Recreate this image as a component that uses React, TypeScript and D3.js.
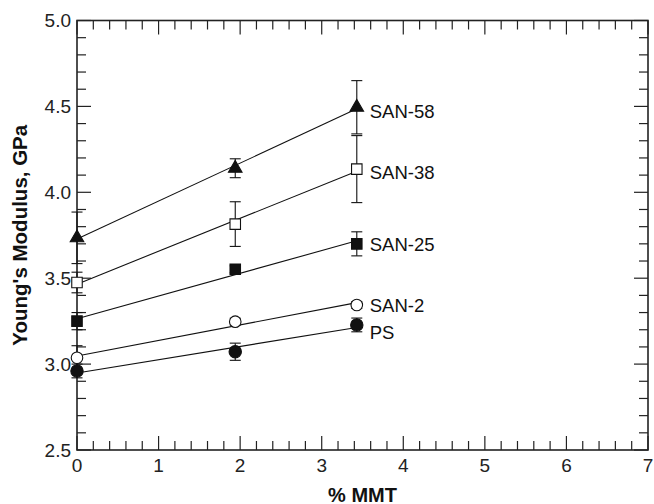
import * as d3 from 'd3'
import React, { useEffect, useRef } from 'react'

// % MMT loadings
const mmt = [0, 1.94, 3.43]

const names = ['SAN-58', 'SAN-38', 'SAN-25', 'SAN-2', 'PS']
const san58 = [3.735, 4.14, 4.495]
const san38 = [3.475, 3.815, 4.135]
const san25 = [3.25, 3.552, 3.7]
const san2 = [3.037, 3.247, 3.344]
const ps = [2.96, 3.072, 3.228]

const san58Err = [0.15, 0.055, 0.155]
const san38Err = [0.06, 0.13, 0.195]
const san25Err = [0.05, 0.02, 0.07]
const san2Err = [0.07, 0.02, 0.02]
const psErr = [0.04, 0.05, 0.04]

const xTicks = [0, 1, 2, 3, 4, 5, 6, 7]
const yTicks = [2.5, 3.0, 3.5, 4.0, 4.5, 5.0]

const W = 654
const H = 504
const margin = { top: 20.5, right: 6, bottom: 54, left: 77 }

export default function App() {
  const ref = useRef<SVGSVGElement>(null)

  useEffect(() => {
    const svg = d3.select(ref.current)
    svg.selectAll('*').remove()

    const x = d3.scaleLinear().domain([0, 7]).range([margin.left, W - margin.right])
    const y = d3.scaleLinear().domain([2.5, 5]).range([H - margin.bottom, margin.top])

    const font = 'Arial, "Liberation Sans", Helvetica, sans-serif'
    const [x0, x1] = x.range()
    const [y0, y1] = y.range()

    // ticks on all four sides, pointing inward
    const xMinor = d3.range(0, 7.001, 0.2)
    const yMinor = d3.range(2.5, 5.001, 0.1)
    const isMajor = (v: number, step: number) => Math.abs(v / step - Math.round(v / step)) < 1e-6
    const tg = svg.append('g').attr('stroke', '#222').attr('stroke-width', 1.2)
    xMinor.forEach(v => {
      const len = isMajor(v, 1) ? 14 : 9
      tg.append('line').attr('x1', x(v)).attr('x2', x(v)).attr('y1', y0).attr('y2', y0 - len)
      tg.append('line').attr('x1', x(v)).attr('x2', x(v)).attr('y1', y1).attr('y2', y1 + len)
    })
    yMinor.forEach(v => {
      const len = isMajor(v, 0.5) ? 14 : 9
      tg.append('line').attr('x1', x0).attr('x2', x0 + len).attr('y1', y(v)).attr('y2', y(v))
      tg.append('line').attr('x1', x1).attr('x2', x1 - len).attr('y1', y(v)).attr('y2', y(v))
    })

    svg.append('rect')
      .attr('x', x0).attr('y', y1)
      .attr('width', x1 - x0).attr('height', y0 - y1)
      .attr('fill', 'none').attr('stroke', '#222').attr('stroke-width', 1.6)

    // tick labels
    svg.append('g').selectAll('text').data(xTicks).join('text')
      .attr('x', d => x(d)).attr('y', y0 + 22)
      .attr('text-anchor', 'middle')
      .style('font', `19px ${font}`).attr('fill', '#222')
      .text(d => d)
    svg.append('g').selectAll('text').data(yTicks).join('text')
      .attr('x', x0 - 6).attr('y', d => y(d) + 6.5)
      .attr('text-anchor', 'end')
      .style('font', `19px ${font}`).attr('fill', '#222')
      .text(d => d3.format('.1f')(d))

    // axis titles
    svg.append('text')
      .attr('x', (x0 + x1) / 2).attr('y', 501.5)
      .attr('text-anchor', 'middle')
      .style('font', `bold 20px ${font}`).attr('fill', '#111')
      .text('% MMT')
    svg.append('text')
      .attr('transform', `translate(27,${(y0 + y1) / 2}) rotate(-90)`)
      .attr('text-anchor', 'middle')
      .style('font', `bold 20.5px ${font}`).attr('fill', '#111')
      .text("Young's Modulus, GPa")

    const values = [san58, san38, san25, san2, ps]
    const errs = [san58Err, san38Err, san25Err, san2Err, psErr]
    const labelDy = [4, 3, 1, 0, 8]

    // least-squares lines through each series
    const lg = svg.append('g')
    values.forEach(vals => {
      const mx = d3.mean(mmt)!
      const my = d3.mean(vals)!
      const sxy = d3.sum(mmt, (v, i) => (v - mx) * (vals[i] - my))
      const sxx = d3.sum(mmt, v => (v - mx) ** 2)
      const b = sxy / sxx
      const a = my - b * mx
      const ends = [mmt[0], mmt[mmt.length - 1]]
      lg.append('line')
        .attr('x1', x(ends[0])).attr('y1', y(a + b * ends[0]))
        .attr('x2', x(ends[1])).attr('y2', y(a + b * ends[1]))
        .attr('stroke', '#111').attr('stroke-width', 1.1)
    })

    // error bars
    const eg = svg.append('g').attr('stroke', '#111').attr('stroke-width', 1.1)
    values.forEach((vals, s) => {
      vals.forEach((v, i) => {
        const e = errs[s][i]
        const cx = x(mmt[i])
        eg.append('line').attr('x1', cx).attr('x2', cx).attr('y1', y(v - e)).attr('y2', y(v + e))
        ;[v - e, v + e].forEach(c => {
          eg.append('line').attr('x1', cx - 5.5).attr('x2', cx + 5.5).attr('y1', y(c)).attr('y2', y(c))
        })
      })
    })

    // markers
    const mg = svg.append('g')
    const symbols = [d3.symbolTriangle, d3.symbolSquare, d3.symbolSquare, d3.symbolCircle, d3.symbolCircle]
    const sizes = [80, 110, 110, 105, 120]
    const fills = ['#111', '#fff', '#111', '#fff', '#111']
    values.forEach((vals, s) => {
      const path = d3.symbol().type(symbols[s]).size(sizes[s])()
      vals.forEach((v, i) => {
        mg.append('path')
          .attr('d', path)
          .attr('transform', `translate(${x(mmt[i])},${y(v)})`)
          .attr('fill', fills[s]).attr('stroke', '#111').attr('stroke-width', 1.1)
      })
    })

    // series labels
    svg.append('g').selectAll('text').data(names).join('text')
      .attr('x', x(mmt[mmt.length - 1]) + 13)
      .attr('y', (d, s) => y(values[s][mmt.length - 1]) + labelDy[s] + 6.5)
      .style('font', `18.5px ${font}`).attr('fill', '#111')
      .text(d => d)
  }, [])

  return (
    <svg
      ref={ref}
      width={W}
      height={H}
      style={{ position: 'absolute', left: 0, top: 0, background: '#fff' }}
    />
  )
}
